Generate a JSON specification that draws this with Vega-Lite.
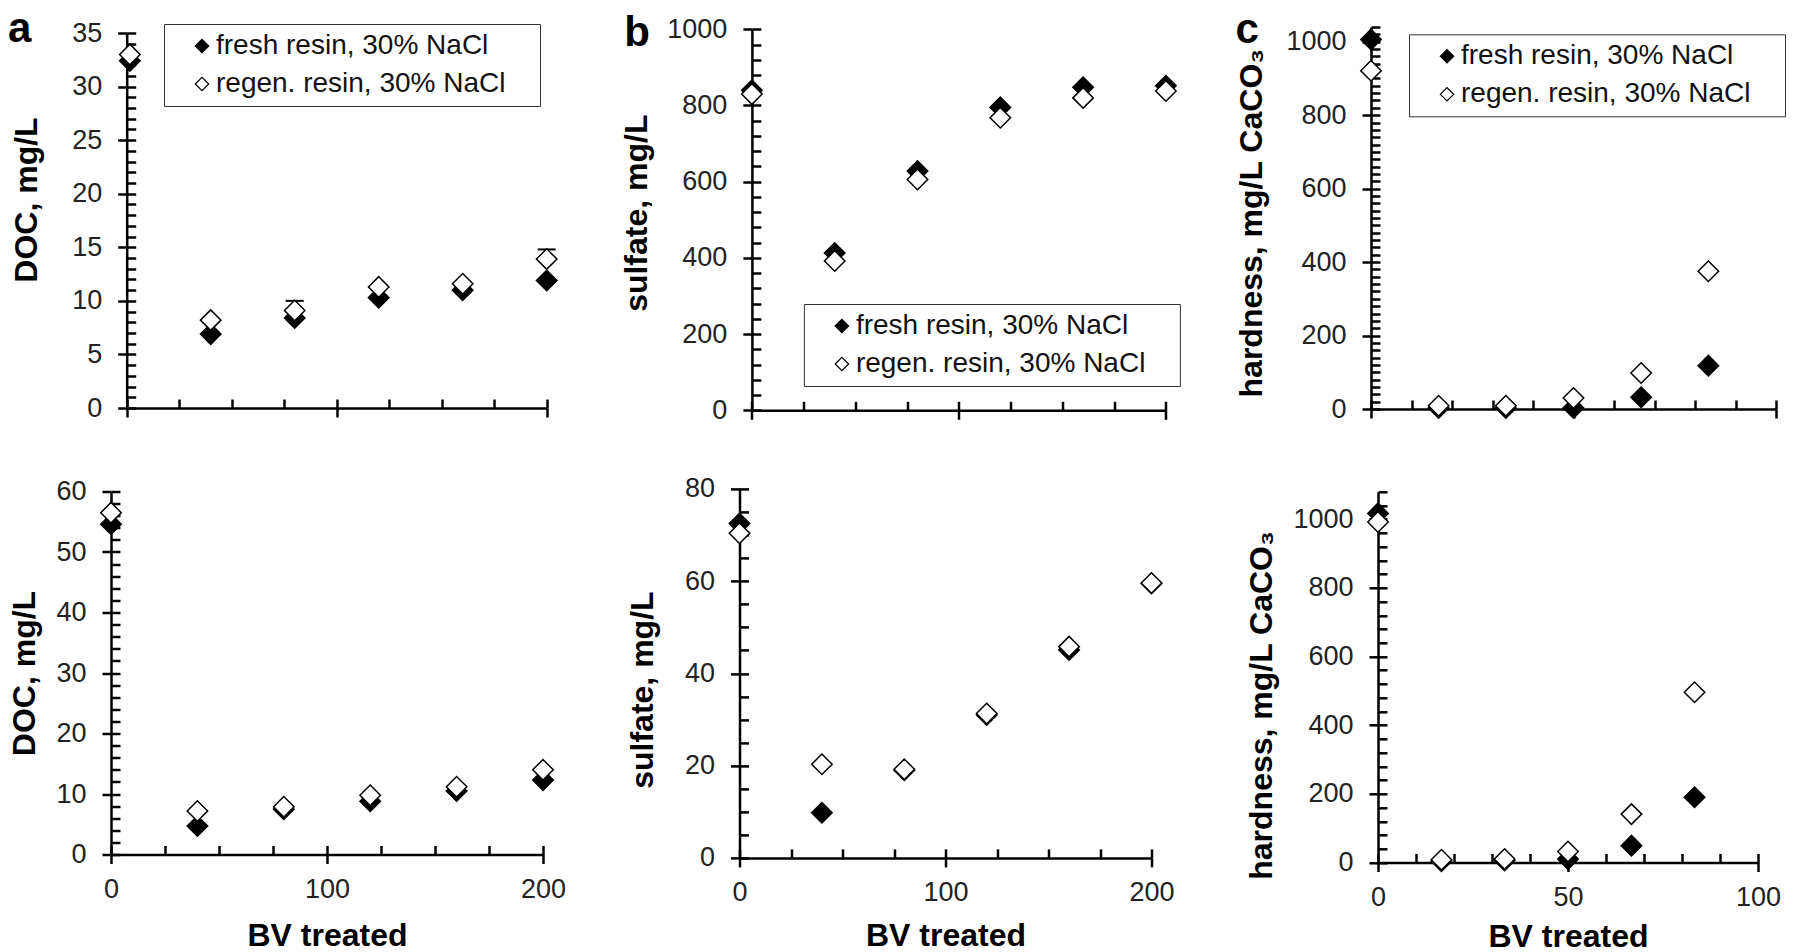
{
  "$schema": "https://vega.github.io/schema/vega-lite/v6.json",
  "background": "white",
  "padding": {"left": 8, "top": 1, "right": 0, "bottom": 0},
  "datasets": {
    "pts": [
      {"p": "a1", "s": "fresh resin, 30% NaCl", "x": 1.5, "y": 32.4},
      {"p": "a1", "s": "fresh resin, 30% NaCl", "x": 40, "y": 6.9},
      {"p": "a1", "s": "fresh resin, 30% NaCl", "x": 80, "y": 8.4},
      {"p": "a1", "s": "fresh resin, 30% NaCl", "x": 120, "y": 10.3},
      {"p": "a1", "s": "fresh resin, 30% NaCl", "x": 160, "y": 11.0},
      {"p": "a1", "s": "fresh resin, 30% NaCl", "x": 200, "y": 11.9},
      {"p": "a1", "s": "regen. resin, 30% NaCl", "x": 1.5, "y": 33.0},
      {"p": "a1", "s": "regen. resin, 30% NaCl", "x": 40, "y": 8.2},
      {"p": "a1", "s": "regen. resin, 30% NaCl", "x": 80, "y": 9.1, "hi": 10.0},
      {"p": "a1", "s": "regen. resin, 30% NaCl", "x": 120, "y": 11.3},
      {"p": "a1", "s": "regen. resin, 30% NaCl", "x": 160, "y": 11.6},
      {"p": "a1", "s": "regen. resin, 30% NaCl", "x": 200, "y": 13.9, "hi": 14.8},
      {"p": "b1", "s": "fresh resin, 30% NaCl", "x": 0, "y": 840},
      {"p": "b1", "s": "fresh resin, 30% NaCl", "x": 40, "y": 413},
      {"p": "b1", "s": "fresh resin, 30% NaCl", "x": 80, "y": 628},
      {"p": "b1", "s": "fresh resin, 30% NaCl", "x": 120, "y": 795},
      {"p": "b1", "s": "fresh resin, 30% NaCl", "x": 160, "y": 848},
      {"p": "b1", "s": "fresh resin, 30% NaCl", "x": 200, "y": 852},
      {"p": "b1", "s": "regen. resin, 30% NaCl", "x": 0, "y": 830},
      {"p": "b1", "s": "regen. resin, 30% NaCl", "x": 40, "y": 392},
      {"p": "b1", "s": "regen. resin, 30% NaCl", "x": 80, "y": 606},
      {"p": "b1", "s": "regen. resin, 30% NaCl", "x": 120, "y": 768},
      {"p": "b1", "s": "regen. resin, 30% NaCl", "x": 160, "y": 820},
      {"p": "b1", "s": "regen. resin, 30% NaCl", "x": 200, "y": 838},
      {"p": "c1", "s": "fresh resin, 30% NaCl", "x": 0, "y": 1006},
      {"p": "c1", "s": "fresh resin, 30% NaCl", "x": 16.7, "y": 3},
      {"p": "c1", "s": "fresh resin, 30% NaCl", "x": 33.3, "y": 3},
      {"p": "c1", "s": "fresh resin, 30% NaCl", "x": 50, "y": 3},
      {"p": "c1", "s": "fresh resin, 30% NaCl", "x": 66.7, "y": 32},
      {"p": "c1", "s": "fresh resin, 30% NaCl", "x": 83.3, "y": 118},
      {"p": "c1", "s": "regen. resin, 30% NaCl", "x": 0, "y": 921},
      {"p": "c1", "s": "regen. resin, 30% NaCl", "x": 16.7, "y": 9},
      {"p": "c1", "s": "regen. resin, 30% NaCl", "x": 33.3, "y": 9},
      {"p": "c1", "s": "regen. resin, 30% NaCl", "x": 50, "y": 30},
      {"p": "c1", "s": "regen. resin, 30% NaCl", "x": 66.7, "y": 98},
      {"p": "c1", "s": "regen. resin, 30% NaCl", "x": 83.3, "y": 375},
      {"p": "a2", "s": "fresh resin, 30% NaCl", "x": 0, "y": 54.6},
      {"p": "a2", "s": "fresh resin, 30% NaCl", "x": 40, "y": 4.7},
      {"p": "a2", "s": "fresh resin, 30% NaCl", "x": 80, "y": 7.5},
      {"p": "a2", "s": "fresh resin, 30% NaCl", "x": 120, "y": 8.8},
      {"p": "a2", "s": "fresh resin, 30% NaCl", "x": 160, "y": 10.5},
      {"p": "a2", "s": "fresh resin, 30% NaCl", "x": 200, "y": 12.3},
      {"p": "a2", "s": "regen. resin, 30% NaCl", "x": 0, "y": 56.5},
      {"p": "a2", "s": "regen. resin, 30% NaCl", "x": 40, "y": 7.2},
      {"p": "a2", "s": "regen. resin, 30% NaCl", "x": 80, "y": 7.9},
      {"p": "a2", "s": "regen. resin, 30% NaCl", "x": 120, "y": 9.8},
      {"p": "a2", "s": "regen. resin, 30% NaCl", "x": 160, "y": 11.2},
      {"p": "a2", "s": "regen. resin, 30% NaCl", "x": 200, "y": 14.0},
      {"p": "b2", "s": "fresh resin, 30% NaCl", "x": 0, "y": 72.5},
      {"p": "b2", "s": "fresh resin, 30% NaCl", "x": 40, "y": 9.8},
      {"p": "b2", "s": "fresh resin, 30% NaCl", "x": 80, "y": 19.0},
      {"p": "b2", "s": "fresh resin, 30% NaCl", "x": 120, "y": 31.0},
      {"p": "b2", "s": "fresh resin, 30% NaCl", "x": 160, "y": 45.1},
      {"p": "b2", "s": "fresh resin, 30% NaCl", "x": 200, "y": 59.5},
      {"p": "b2", "s": "regen. resin, 30% NaCl", "x": 0, "y": 70.4},
      {"p": "b2", "s": "regen. resin, 30% NaCl", "x": 40, "y": 20.3},
      {"p": "b2", "s": "regen. resin, 30% NaCl", "x": 80, "y": 19.2},
      {"p": "b2", "s": "regen. resin, 30% NaCl", "x": 120, "y": 31.3},
      {"p": "b2", "s": "regen. resin, 30% NaCl", "x": 160, "y": 45.8},
      {"p": "b2", "s": "regen. resin, 30% NaCl", "x": 200, "y": 59.6},
      {"p": "c2", "s": "fresh resin, 30% NaCl", "x": 0, "y": 1017},
      {"p": "c2", "s": "fresh resin, 30% NaCl", "x": 16.7, "y": 4},
      {"p": "c2", "s": "fresh resin, 30% NaCl", "x": 33.3, "y": 6},
      {"p": "c2", "s": "fresh resin, 30% NaCl", "x": 50, "y": 10},
      {"p": "c2", "s": "fresh resin, 30% NaCl", "x": 66.7, "y": 49},
      {"p": "c2", "s": "fresh resin, 30% NaCl", "x": 83.3, "y": 190},
      {"p": "c2", "s": "regen. resin, 30% NaCl", "x": 0, "y": 992},
      {"p": "c2", "s": "regen. resin, 30% NaCl", "x": 16.7, "y": 8},
      {"p": "c2", "s": "regen. resin, 30% NaCl", "x": 33.3, "y": 10},
      {"p": "c2", "s": "regen. resin, 30% NaCl", "x": 50, "y": 32},
      {"p": "c2", "s": "regen. resin, 30% NaCl", "x": 66.7, "y": 141},
      {"p": "c2", "s": "regen. resin, 30% NaCl", "x": 83.3, "y": 496}
    ]
  },
  "data": {"name": "pts"},
  "align": "none",
  "spacing": 54.5,
  "hconcat": [
    {
      "title": {"text": "a", "anchor": "start", "frame": "bounds", "fontSize": 42, "fontWeight": "bold", "font": "Liberation Sans", "color": "black", "offset": -31.8, "dx": -0.2},
      "align": "none",
      "spacing": 56.5,
      "resolve": {"scale": {"fill": "independent"}, "legend": {"fill": "independent"}},
      "vconcat": [
        {
          "width": 435.7, "height": 381,
          "transform": [{"filter": "datum.p === 'a1'"}],
          "layer": [
            {
              "transform": [{"filter": "isValid(datum.hi)"}],
              "mark": {"type": "rule", "color": "black", "strokeWidth": 2},
              "encoding": {
                "x": {"field": "x", "type": "quantitative", "axis": null, "scale": {"domain": [0, 200], "nice": false, "range": [15.7, 435.7]}},
                "y": {"field": "y", "type": "quantitative", "axis": null, "scale": {"domain": [0, 35], "nice": false, "range": [381, 6]}},
                "y2": {"field": "hi"}
              }
            },
            {
              "transform": [{"filter": "isValid(datum.hi)"}],
              "mark": {"type": "tick", "orient": "horizontal", "color": "black", "size": 18, "thickness": 2, "opacity": 1},
              "encoding": {
                "x": {"field": "x", "type": "quantitative", "axis": null, "scale": {"domain": [0, 200], "nice": false, "range": [15.7, 435.7]}},
                "y": {"field": "hi", "type": "quantitative", "axis": null, "scale": {"domain": [0, 35], "nice": false, "range": [381, 6]}}
              }
            },
            {
              "transform": [{"filter": "indexof(datum.s, 'fresh') === 0"}],
              "mark": {"type": "point", "shape": "diamond", "size": 420, "filled": true, "stroke": "black", "strokeWidth": 1.5, "opacity": 1},
              "encoding": {
                "x": {"field": "x", "type": "quantitative", "scale": {"domain": [0, 200], "nice": false, "range": [15.7, 435.7]},
                      "axis": {"title": null, "orient": "bottom", "labels": false, "values": [0, 100, 200], "tickSize": 9}},
                "y": {"field": "y", "type": "quantitative", "scale": {"domain": [0, 35], "nice": false, "range": [381, 6]},
                      "axis": {"title": "DOC, mg/L", "orient": "left", "offset": -15.7, "format": "d", "values": [0, 5, 10, 15, 20, 25, 30, 35], "tickSize": 9, "labelPadding": 16, "titlePadding": 28.5, "titleY": 172.5}},
                "fill": {"field": "s", "type": "nominal", "scale": {"domain": ["fresh resin, 30% NaCl", "regen. resin, 30% NaCl"], "range": ["black", "white"]},
                         "legend": {"title": " ", "titleOrient": "right", "titleFontSize": 1, "titlePadding": 27, "orient": "none", "legendX": 53, "legendY": -3, "symbolType": "diamond", "symbolSize": 180, "symbolStrokeColor": "black", "symbolStrokeWidth": 1.2, "labelFontSize": 28, "labelFont": "Liberation Sans", "labelColor": "#111", "labelLimit": 1000, "labelOffset": 0, "symbolOffset": 16, "padding": 8, "rowPadding": 10, "strokeColor": "#333", "fillColor": "white", "encode": {"legend": {"update": {"strokeWidth": {"value": 1.5}}}}}}
              }
            },
            {
              "transform": [{"filter": "indexof(datum.s, 'regen') === 0"}],
              "mark": {"type": "point", "shape": "diamond", "size": 420, "filled": true, "stroke": "black", "strokeWidth": 1.5, "opacity": 1},
              "encoding": {
                "x": {"field": "x", "type": "quantitative", "scale": {"domain": [0, 200], "nice": false, "range": [15.7, 435.7]},
                      "axis": {"title": null, "orient": "bottom", "labels": false, "domain": false, "tickSize": -9, "values": [0, 25, 50, 75, 100, 125, 150, 175, 200]}},
                "y": {"field": "y", "type": "quantitative", "scale": {"domain": [0, 35], "nice": false, "range": [381, 6]},
                      "axis": {"title": null, "orient": "left", "offset": -15.7, "labels": false, "domain": false, "tickSize": -9, "values": [0,1,2,3,4,5,6,7,8,9,10,11,12,13,14,15,16,17,18,19,20,21,22,23,24,25,26,27,28,29,30,31,32,33,34,35]}},
                "fill": {"field": "s", "type": "nominal", "scale": {"domain": ["fresh resin, 30% NaCl", "regen. resin, 30% NaCl"], "range": ["black", "white"]}}
              }
            }
          ],
          "resolve": {"axis": {"x": "independent", "y": "independent"}}
        },
        {
          "width": 432, "height": 363,
          "transform": [{"filter": "datum.p === 'a2'"}],
          "layer": [
            {
              "transform": [{"filter": "indexof(datum.s, 'fresh') === 0"}],
              "mark": {"type": "point", "shape": "diamond", "size": 420, "filled": true, "stroke": "black", "strokeWidth": 1.5, "opacity": 1},
              "encoding": {
                "x": {"field": "x", "type": "quantitative", "scale": {"domain": [0, 200], "nice": false},
                      "axis": {"title": "BV treated", "orient": "bottom", "values": [0, 100, 200], "tickSize": 9, "labelPadding": 13, "titlePadding": 18.3}},
                "y": {"field": "y", "type": "quantitative", "scale": {"domain": [0, 60], "nice": false},
                      "axis": {"title": "DOC, mg/L", "orient": "left", "format": "d", "values": [0, 10, 20, 30, 40, 50, 60], "tickSize": 9, "labelPadding": 16, "titlePadding": 14.7}},
                "fill": {"field": "s", "type": "nominal", "scale": {"domain": ["fresh resin, 30% NaCl", "regen. resin, 30% NaCl"], "range": ["black", "white"]}, "legend": null}
              }
            },
            {
              "transform": [{"filter": "indexof(datum.s, 'regen') === 0"}],
              "mark": {"type": "point", "shape": "diamond", "size": 420, "filled": true, "stroke": "black", "strokeWidth": 1.5, "opacity": 1},
              "encoding": {
                "x": {"field": "x", "type": "quantitative", "scale": {"domain": [0, 200], "nice": false},
                      "axis": {"title": null, "orient": "bottom", "labels": false, "domain": false, "tickSize": -9, "values": [0, 25, 50, 75, 100, 125, 150, 175, 200]}},
                "y": {"field": "y", "type": "quantitative", "scale": {"domain": [0, 60], "nice": false},
                      "axis": {"title": null, "orient": "left", "labels": false, "domain": false, "tickSize": -9, "values": [0,2,4,6,8,10,12,14,16,18,20,22,24,26,28,30,32,34,36,38,40,42,44,46,48,50,52,54,56,58,60]}},
                "fill": {"field": "s", "type": "nominal", "scale": {"domain": ["fresh resin, 30% NaCl", "regen. resin, 30% NaCl"], "range": ["black", "white"]}, "legend": null}
              }
            }
          ],
          "resolve": {"axis": {"x": "independent", "y": "independent"}}
        }
      ]
    },
    {
      "title": {"text": ["", "b"], "lineHeight": 10, "anchor": "start", "frame": "bounds", "fontSize": 42, "fontWeight": "bold", "font": "Liberation Sans", "color": "black", "offset": -39.6, "dx": 3.5},
      "align": "none",
      "spacing": 50.9,
      "resolve": {"scale": {"fill": "independent"}, "legend": {"fill": "independent"}},
      "vconcat": [
        {
          "width": 426.4, "height": 383.3,
          "transform": [{"filter": "datum.p === 'b1'"}],
          "layer": [
            {
              "transform": [{"filter": "indexof(datum.s, 'fresh') === 0"}],
              "mark": {"type": "point", "shape": "diamond", "size": 420, "filled": true, "stroke": "black", "strokeWidth": 1.5, "opacity": 1},
              "encoding": {
                "x": {"field": "x", "type": "quantitative", "scale": {"domain": [0, 200], "nice": false, "range": [12.4, 426.4]},
                      "axis": {"title": null, "orient": "bottom", "labels": false, "values": [0, 100, 200], "tickSize": 9}},
                "y": {"field": "y", "type": "quantitative", "scale": {"domain": [0, 1000], "nice": false, "range": [383.3, 2.3]},
                      "axis": {"title": "sulfate, mg/L", "orient": "left", "offset": -12.4, "format": "d", "values": [0, 200, 400, 600, 800, 1000], "tickSize": 9, "labelPadding": 16, "titlePadding": 13, "titleY": 185.7}},
                "fill": {"field": "s", "type": "nominal", "scale": {"domain": ["fresh resin, 30% NaCl", "regen. resin, 30% NaCl"], "range": ["black", "white"]},
                         "legend": {"title": " ", "titleOrient": "right", "titleFontSize": 1, "titlePadding": 27, "orient": "none", "legendX": 64.4, "legendY": 277, "symbolType": "diamond", "symbolSize": 180, "symbolStrokeColor": "black", "symbolStrokeWidth": 1.2, "labelFontSize": 28, "labelFont": "Liberation Sans", "labelColor": "#111", "labelLimit": 1000, "labelOffset": 0, "symbolOffset": 16, "padding": 8, "rowPadding": 10, "strokeColor": "#333", "fillColor": "white", "encode": {"legend": {"update": {"strokeWidth": {"value": 1.5}}}}}}
              }
            },
            {
              "transform": [{"filter": "indexof(datum.s, 'regen') === 0"}],
              "mark": {"type": "point", "shape": "diamond", "size": 420, "filled": true, "stroke": "black", "strokeWidth": 1.5, "opacity": 1},
              "encoding": {
                "x": {"field": "x", "type": "quantitative", "scale": {"domain": [0, 200], "nice": false, "range": [12.4, 426.4]},
                      "axis": {"title": null, "orient": "bottom", "labels": false, "domain": false, "tickSize": -9, "values": [0, 25, 50, 75, 100, 125, 150, 175, 200]}},
                "y": {"field": "y", "type": "quantitative", "scale": {"domain": [0, 1000], "nice": false, "range": [383.3, 2.3]},
                      "axis": {"title": null, "orient": "left", "offset": -12.4, "labels": false, "domain": false, "tickSize": -9, "values": [0,40,80,120,160,200,240,280,320,360,400,440,480,520,560,600,640,680,720,760,800,840,880,920,960,1000]}},
                "fill": {"field": "s", "type": "nominal", "scale": {"domain": ["fresh resin, 30% NaCl", "regen. resin, 30% NaCl"], "range": ["black", "white"]}}
              }
            }
          ],
          "resolve": {"axis": {"x": "independent", "y": "independent"}}
        },
        {
          "width": 412, "height": 369,
          "transform": [{"filter": "datum.p === 'b2'"}],
          "layer": [
            {
              "transform": [{"filter": "indexof(datum.s, 'fresh') === 0"}],
              "mark": {"type": "point", "shape": "diamond", "size": 420, "filled": true, "stroke": "black", "strokeWidth": 1.5, "opacity": 1},
              "encoding": {
                "x": {"field": "x", "type": "quantitative", "scale": {"domain": [0, 200], "nice": false},
                      "axis": {"title": "BV treated", "orient": "bottom", "values": [0, 100, 200], "tickSize": 9, "labelPadding": 13, "titlePadding": 15}},
                "y": {"field": "y", "type": "quantitative", "scale": {"domain": [0, 80], "nice": false},
                      "axis": {"title": "sulfate, mg/L", "orient": "left", "format": "d", "values": [0, 20, 40, 60, 80], "tickSize": 9, "labelPadding": 16, "titlePadding": 25.1, "titleY": 200.7}},
                "fill": {"field": "s", "type": "nominal", "scale": {"domain": ["fresh resin, 30% NaCl", "regen. resin, 30% NaCl"], "range": ["black", "white"]}, "legend": null}
              }
            },
            {
              "transform": [{"filter": "indexof(datum.s, 'regen') === 0"}],
              "mark": {"type": "point", "shape": "diamond", "size": 420, "filled": true, "stroke": "black", "strokeWidth": 1.5, "opacity": 1},
              "encoding": {
                "x": {"field": "x", "type": "quantitative", "scale": {"domain": [0, 200], "nice": false},
                      "axis": {"title": null, "orient": "bottom", "labels": false, "domain": false, "tickSize": -9, "values": [0, 25, 50, 75, 100, 125, 150, 175, 200]}},
                "y": {"field": "y", "type": "quantitative", "scale": {"domain": [0, 80], "nice": false},
                      "axis": {"title": null, "orient": "left", "labels": false, "domain": false, "tickSize": -9, "values": [0,5,10,15,20,25,30,35,40,45,50,55,60,65,70,75,80]}},
                "fill": {"field": "s", "type": "nominal", "scale": {"domain": ["fresh resin, 30% NaCl", "regen. resin, 30% NaCl"], "range": ["black", "white"]}, "legend": null}
              }
            }
          ],
          "resolve": {"axis": {"x": "independent", "y": "independent"}}
        }
      ]
    },
    {
      "title": {"text": "c", "anchor": "start", "frame": "bounds", "fontSize": 42, "fontWeight": "bold", "font": "Liberation Sans", "color": "black", "offset": -26.15, "dx": -0.5},
      "align": "none",
      "spacing": 67.8,
      "resolve": {"scale": {"fill": "independent"}, "legend": {"fill": "independent"}},
      "vconcat": [
        {
          "width": 405, "height": 382,
          "transform": [{"filter": "datum.p === 'c1'"}],
          "layer": [
            {
              "transform": [{"filter": "indexof(datum.s, 'fresh') === 0"}],
              "mark": {"type": "point", "shape": "diamond", "size": 420, "filled": true, "stroke": "black", "strokeWidth": 1.5, "opacity": 1},
              "encoding": {
                "x": {"field": "x", "type": "quantitative", "scale": {"domain": [0, 100], "nice": false},
                      "axis": {"title": null, "orient": "bottom", "labels": false, "values": [0, 50, 100], "tickSize": 9}},
                "y": {"field": "y", "type": "quantitative", "scale": {"domain": [0, 1040], "nice": false},
                      "axis": {"title": "hardness, mg/L CaCO₃", "orient": "left", "format": "d", "values": [0, 200, 400, 600, 800, 1000], "tickSize": 9, "labelPadding": 16, "titlePadding": 17, "titleY": 195.7}},
                "fill": {"field": "s", "type": "nominal", "scale": {"domain": ["fresh resin, 30% NaCl", "regen. resin, 30% NaCl"], "range": ["black", "white"]},
                         "legend": {"title": " ", "titleOrient": "right", "titleFontSize": 1, "titlePadding": 27, "orient": "none", "legendX": 38, "legendY": 7.3, "symbolType": "diamond", "symbolSize": 180, "symbolStrokeColor": "black", "symbolStrokeWidth": 1.2, "labelFontSize": 28, "labelFont": "Liberation Sans", "labelColor": "#111", "labelLimit": 1000, "labelOffset": 0, "symbolOffset": 16, "padding": 8, "rowPadding": 10, "strokeColor": "#333", "fillColor": "white", "encode": {"legend": {"update": {"strokeWidth": {"value": 1.5}}}}}}
              }
            },
            {
              "transform": [{"filter": "indexof(datum.s, 'regen') === 0"}],
              "mark": {"type": "point", "shape": "diamond", "size": 420, "filled": true, "stroke": "black", "strokeWidth": 1.5, "opacity": 1},
              "encoding": {
                "x": {"field": "x", "type": "quantitative", "scale": {"domain": [0, 100], "nice": false},
                      "axis": {"title": null, "orient": "bottom", "labels": false, "domain": false, "tickSize": -9, "values": [0,10,20,30,40,50,60,70,80,90,100]}},
                "y": {"field": "y", "type": "quantitative", "scale": {"domain": [0, 1040], "nice": false},
                      "axis": {"title": null, "orient": "left", "labels": false, "domain": false, "tickSize": -9, "values": [0,20,40,60,80,100,120,140,160,180,200,220,240,260,280,300,320,340,360,380,400,420,440,460,480,500,520,540,560,580,600,620,640,660,680,700,720,740,760,780,800,820,840,860,880,900,920,940,960,980,1000,1020,1040]}},
                "fill": {"field": "s", "type": "nominal", "scale": {"domain": ["fresh resin, 30% NaCl", "regen. resin, 30% NaCl"], "range": ["black", "white"]}}
              }
            }
          ],
          "resolve": {"axis": {"x": "independent", "y": "independent"}}
        },
        {
          "width": 387, "height": 370.7,
          "transform": [{"filter": "datum.p === 'c2'"}],
          "layer": [
            {
              "transform": [{"filter": "indexof(datum.s, 'fresh') === 0"}],
              "mark": {"type": "point", "shape": "diamond", "size": 420, "filled": true, "stroke": "black", "strokeWidth": 1.5, "opacity": 1},
              "encoding": {
                "x": {"field": "x", "type": "quantitative", "scale": {"domain": [0, 100], "nice": false, "range": [7, 387]},
                      "axis": {"title": "BV treated", "orient": "bottom", "values": [0, 50, 100], "tickSize": 9, "labelPadding": 13, "titlePadding": 11}},
                "y": {"field": "y", "type": "quantitative", "scale": {"domain": [0, 1080], "nice": false},
                      "axis": {"title": "hardness, mg/L CaCO₃", "orient": "left", "offset": -7, "format": "d", "values": [0, 200, 400, 600, 800, 1000], "tickSize": 9, "labelPadding": 16, "titlePadding": 14.3, "titleY": 213.2}},
                "fill": {"field": "s", "type": "nominal", "scale": {"domain": ["fresh resin, 30% NaCl", "regen. resin, 30% NaCl"], "range": ["black", "white"]}, "legend": null}
              }
            },
            {
              "transform": [{"filter": "indexof(datum.s, 'regen') === 0"}],
              "mark": {"type": "point", "shape": "diamond", "size": 420, "filled": true, "stroke": "black", "strokeWidth": 1.5, "opacity": 1},
              "encoding": {
                "x": {"field": "x", "type": "quantitative", "scale": {"domain": [0, 100], "nice": false, "range": [7, 387]},
                      "axis": {"title": null, "orient": "bottom", "labels": false, "domain": false, "tickSize": -9, "values": [0,10,20,30,40,50,60,70,80,90,100]}},
                "y": {"field": "y", "type": "quantitative", "scale": {"domain": [0, 1080], "nice": false},
                      "axis": {"title": null, "orient": "left", "offset": -7, "labels": false, "domain": false, "tickSize": -9, "values": [0,40,80,120,160,200,240,280,320,360,400,440,480,520,560,600,640,680,720,760,800,840,880,920,960,1000,1040,1080]}},
                "fill": {"field": "s", "type": "nominal", "scale": {"domain": ["fresh resin, 30% NaCl", "regen. resin, 30% NaCl"], "range": ["black", "white"]}, "legend": null}
              }
            }
          ],
          "resolve": {"axis": {"x": "independent", "y": "independent"}}
        }
      ]
    }
  ],
  "resolve": {"scale": {"fill": "independent"}, "legend": {"fill": "independent"}},
  "config": {
    "view": {"stroke": null},
    "font": "Liberation Sans",
    "axis": {
      "domainColor": "black", "domainWidth": 2.5,
      "tickColor": "black", "tickWidth": 2.5,
      "labelFont": "Liberation Sans", "labelFontSize": 27, "labelColor": "#222",
      "titleFont": "Liberation Sans", "titleFontSize": 32, "titleFontWeight": "bold", "titleColor": "black",
      "grid": false, "labelFlush": false
    }
  }
}
